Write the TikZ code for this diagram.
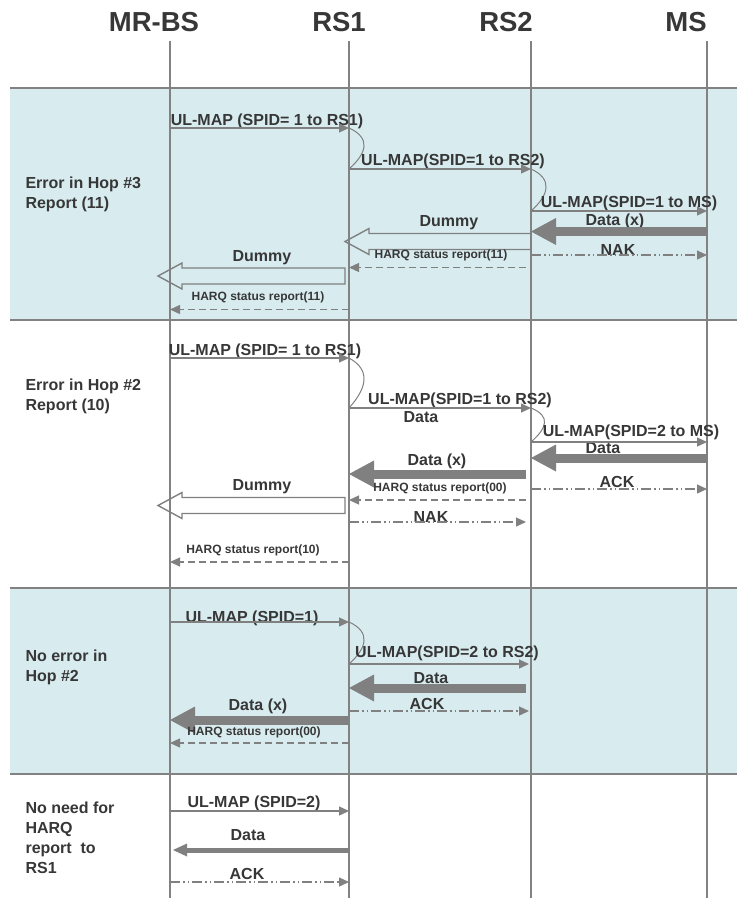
\documentclass[tikz,border=0pt]{standalone}
\usepackage{fontspec}
\setmainfont{Liberation Sans}
\usetikzlibrary{arrows.meta}

\definecolor{bandblue}{RGB}{216,236,240}
\definecolor{arrgray}{RGB}{128,128,128}
\definecolor{lifegray}{RGB}{130,130,130}
\definecolor{txtgray}{RGB}{55,55,55}

\tikzset{
  msg/.style={arrgray, line width=1.3pt, -{Triangle[length=10pt,width=9pt]}},
  report/.style={msg, dash pattern=on 7pt off 4pt},
  ackline/.style={msg, dash pattern=on 10pt off 3pt on 1.5pt off 3pt on 1.5pt off 3pt},
  fatarrow/.style={arrgray, line width=9pt, -{Triangle[length=25pt,width=27pt,line width=0pt]}},
  midarrow/.style={arrgray, line width=5pt, -{Triangle[length=14pt,width=13pt,line width=0pt]}},
  dummybox/.style={arrgray, line width=1.4pt, line join=miter},
  hop/.style={arrgray, line width=1pt},
  life/.style={lifegray, line width=1.5pt},
  sep/.style={lifegray, line width=2.5pt},
  lbl/.style={text=txtgray, font=\fontsize{16}{18}\selectfont\bfseries},
  small/.style={text=txtgray, font=\fontsize{12}{14}\selectfont\bfseries},
  side/.style={text=txtgray, anchor=west, align=left, font=\fontsize{16}{20}\selectfont\bfseries},
  head/.style={text=txtgray, font=\fontsize{27.5}{30}\selectfont\bfseries},
}

% hollow block arrow pointing left: tail x, tip x, centre y
\newcommand\dummyarrow[3]{%
  \draw[dummybox] (#1,#3-8) -- (#2+24,#3-8) -- (#2+24,#3-13) -- (#2,#3)
    -- (#2+24,#3+13) -- (#2+24,#3+8) -- (#1,#3+8) -- cycle;}

\begin{document}
\begin{tikzpicture}[x=1pt, y=-1pt]
\useasboundingbox (0,0) rectangle (737,898);

% bands and separators
\fill[bandblue] (10,88) rectangle (737,320);
\fill[bandblue] (10,588) rectangle (737,774);
\foreach \y in {88,320,588,774}
  \draw[sep] (10,\y) -- (737,\y);

% entities
\node[head] (hbs) at (154,22) {MR-BS};
\node[head] (hrs1) at (339,22) {RS1};
\node[head] (hrs2) at (506,22) {RS2};
\node[head] (hms) at (686,22) {MS};
\coordinate (bs) at (170,41);
\coordinate (rs1) at (349,41);
\coordinate (rs2) at (531,41);
\coordinate (ms) at (707,41);
\foreach \l in {bs,rs1,rs2,ms}
  \draw[life] (\l) -- (\l |- 0,898);

% ERROR IN HOP #3
\node[side] (s1) at (22,194) {Error in Hop \#3\\Report (11)};

\node[lbl] (a1) at (267,121) {UL-MAP (SPID= 1 to RS1)};
\draw[msg] (bs |- 0,128) -- (rs1 |- 0,128);
\draw[hop] (rs1 |- 0,128) .. controls +(22,10) and +(18,-16) .. (rs1 |- 0,169);

\node[lbl] (a2) at (453,161) {UL-MAP(SPID=1 to RS2)};
\draw[msg] (rs1 |- 0,169) -- (rs2 |- 0,169);
\draw[hop] (rs2 |- 0,169) .. controls +(22,10) and +(18,-16) .. (rs2 |- 0,211);

\node[lbl] (a3) at (629,203) {UL-MAP(SPID=1 to MS)};
\draw[msg] (rs2 |- 0,211) -- (ms |- 0,211);

\node[lbl] (a4) at (615,221) {Data (x)};
\draw[fatarrow] (ms |- 0,231.5) -- (rs2 |- 0,231.5);

\node[lbl] (a5) at (449,223) {Dummy};
\dummyarrow{531}{345}{241.5}

\node[lbl] (a6) at (618,250) {NAK};
\draw[ackline] (rs2 |- 0,255) -- (ms |- 0,255);

\node[small] (a7) at (441,255) {HARQ status report(11)};
\draw[report] ([xshift=-5pt]rs2 |- 0,267.5) -- (rs1 |- 0,267.5);

\node[lbl] (a8) at (262,258) {Dummy};
\dummyarrow{345}{158}{276}

\node[small] (a9) at (258,297) {HARQ status report(11)};
\draw[report] (rs1 |- 0,309.5) -- (bs |- 0,309.5);

% ERROR IN HOP #2
\node[side] (s2) at (22,396) {Error in Hop \#2\\Report (10)};

\node[lbl] (b1) at (265,351) {UL-MAP (SPID= 1 to RS1)};
\draw[msg] (bs |- 0,358) -- (rs1 |- 0,358);
\draw[hop] (rs1 |- 0,358) .. controls +(22,12) and +(18,-20) .. (rs1 |- 0,408);

\node[lbl] (b2) at (460,400) {UL-MAP(SPID=1 to RS2)};
\node[lbl] (b3) at (421,417) {Data};
\draw[msg] (rs1 |- 0,408) -- (rs2 |- 0,408);
\draw[hop] (rs2 |- 0,408) .. controls +(20,8) and +(16,-14) .. (rs2 |- 0,442);

\node[lbl] (b4) at (631,432) {UL-MAP(SPID=2 to MS)};
\node[lbl] (b5) at (603,448.5) {Data};
\draw[msg] (rs2 |- 0,442) -- (ms |- 0,442);
\draw[fatarrow] (ms |- 0,458) -- (rs2 |- 0,458);

\node[lbl] (b6) at (437,461.5) {Data (x)};
\draw[fatarrow] ([xshift=-5pt]rs2 |- 0,474) -- (rs1 |- 0,474);

\node[lbl] (b7) at (617,481.5) {ACK};
\draw[ackline] (rs2 |- 0,489) -- (ms |- 0,489);

\node[small] (b8) at (440,488) {HARQ status report(00)};
\draw[report] ([xshift=-5pt]rs2 |- 0,500) -- (rs1 |- 0,500);

\node[lbl] (b9) at (262,487) {Dummy};
\dummyarrow{345}{158}{505.5}

\node[lbl] (b10) at (431,517) {NAK};
\draw[ackline] (rs1 |- 0,522) -- ([xshift=-5pt]rs2 |- 0,522);

\node[small] (b11) at (253,550) {HARQ status report(10)};
\draw[report] (rs1 |- 0,562) -- (bs |- 0,562);

% NO ERROR IN HOP #2
\node[side] (s3) at (22,667) {No error in\\Hop \#2};

\node[lbl] (c1) at (252,618) {UL-MAP (SPID=1)};
\draw[msg] (bs |- 0,622) -- (rs1 |- 0,622);
\draw[hop] (rs1 |- 0,622) .. controls +(22,10) and +(18,-16) .. (rs1 |- 0,664);

\node[lbl] (c2) at (447,653.5) {UL-MAP(SPID=2 to RS2)};
\draw[msg] (rs1 |- 0,664) -- ([xshift=-2pt]rs2 |- 0,664);

\node[lbl] (c3) at (431,678) {Data};
\draw[fatarrow] ([xshift=-5pt]rs2 |- 0,688) -- (rs1 |- 0,688);

\node[lbl] (c4) at (427,703.5) {ACK};
\draw[ackline] (rs1 |- 0,711) -- ([xshift=-2pt]rs2 |- 0,711);

\node[lbl] (c5) at (258,706) {Data (x)};
\draw[fatarrow] ([xshift=-1pt]rs1 |- 0,720) -- (bs |- 0,720);

\node[small] (c6) at (254,732) {HARQ status report(00)};
\draw[report] (rs1 |- 0,743) -- (bs |- 0,743);

% NO NEED FOR HARQ REPORT
\node[side] (s4) at (22,838) {No need for\\HARQ\\report~ to\\RS1};

\node[lbl] (e1) at (254,803.5) {UL-MAP (SPID=2)};
\draw[msg] (bs |- 0,811) -- (rs1 |- 0,811);

\node[lbl] (e2) at (248,835) {Data};
\draw[midarrow] ([xshift=1pt]rs1 |- 0,850) -- ([xshift=3pt]bs |- 0,850);

\node[lbl] (e3) at (247,873.5) {ACK};
\draw[ackline] (bs |- 0,882) -- (rs1 |- 0,882);

\end{tikzpicture}
\end{document}
